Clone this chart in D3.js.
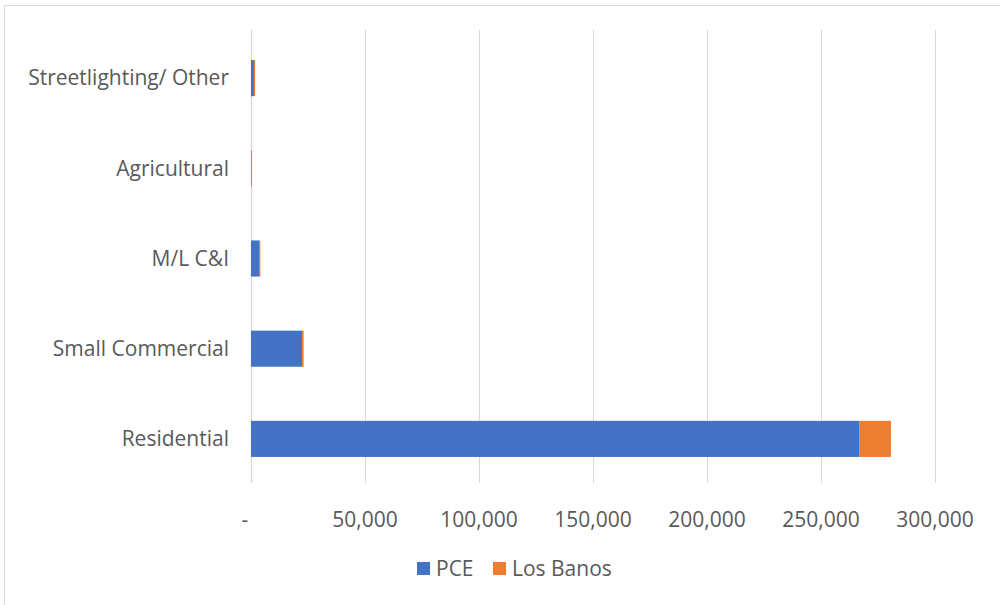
<html>
<head>
<script src="https://d3js.org/d3.v7.min.js"></script>
<style>
  body { margin: 0; background: #fff; }
  text { font-family: "Open Sans", "Noto Sans", sans-serif; fill: #595959; }
</style>
</head>
<body>
<svg id="chart" width="1000" height="605"></svg>
<script>
// data
const categories = ["Streetlighting/ Other", "Agricultural", "M/L C&I", "Small Commercial", "Residential"];
const seriesNames = ["PCE", "Los Banos"];
const pceValues = [1300, 100, 3500, 22400, 266700];
const losBanosValues = [500, 150, 600, 700, 14000];
const tickValues = [0, 50000, 100000, 150000, 200000, 250000, 300000];
const colors = ["#4472C4", "#ED7D31"];

const svg = d3.select("#chart");

// outer chart frame (runs off the page on the right and bottom)
svg.append("rect")
    .attr("x", 4.5).attr("y", 5.5)
    .attr("width", 1100).attr("height", 700)
    .attr("fill", "none").attr("stroke", "#d9d9d9").attr("stroke-width", 1);

const plot = { left: 251, right: 935, top: 30, bottom: 483 };

const x = d3.scaleLinear().domain([0, 300000]).range([plot.left, plot.right]);
const y = d3.scaleBand().domain(categories).range([33, 484]).paddingInner(0.6).paddingOuter(0.3);

// gridlines
svg.append("g").selectAll("line").data(tickValues).join("line")
    .attr("x1", d => x(d) + 0.5).attr("x2", d => x(d) + 0.5)
    .attr("y1", plot.top).attr("y2", plot.bottom)
    .attr("stroke", "#d9d9d9")
    .attr("stroke-width", d => d === 0 ? 1.5 : 1);

// stack the two series
const rows = categories.map((c, i) => ({ cat: c, PCE: pceValues[i], "Los Banos": losBanosValues[i] }));
const stacked = d3.stack().keys(seriesNames)(rows);

svg.append("g").selectAll("g").data(stacked).join("g")
    .attr("fill", (d, i) => colors[i])
  .selectAll("rect").data(d => d).join("rect")
    .attr("x", d => x(d[0]))
    .attr("width", d => Math.max(0.6, x(d[1]) - x(d[0])))
    .attr("y", d => y(d.data.cat))
    .attr("height", y.bandwidth());

// category labels
svg.append("g").selectAll("text").data(categories).join("text")
    .attr("x", 229)
    .attr("y", d => y(d) + y.bandwidth() / 2)
    .attr("dy", "0.35em")
    .attr("text-anchor", "end")
    .attr("font-size", 21)
    .text(d => d);

// x tick labels
const fmt = d3.format(",");
svg.append("g").selectAll("text").data(tickValues).join("text")
    .attr("x", d => d === 0 ? x(d) - 6 : x(d))
    .attr("y", 520)
    .attr("dy", "0.35em")
    .attr("text-anchor", "middle")
    .attr("font-size", 21)
    .text(d => d === 0 ? "-" : fmt(d));

// legend
const legendX = [417, 493];
const legend = svg.append("g").selectAll("g").data(seriesNames).join("g")
    .attr("transform", (d, i) => `translate(${legendX[i]},562)`);
legend.append("rect").attr("width", 13).attr("height", 13).attr("fill", (d, i) => colors[i]);
legend.append("text").attr("x", 19).attr("y", 7).attr("dy", "0.35em").attr("font-size", 21).text(d => d);
</script>
</body>
</html>
